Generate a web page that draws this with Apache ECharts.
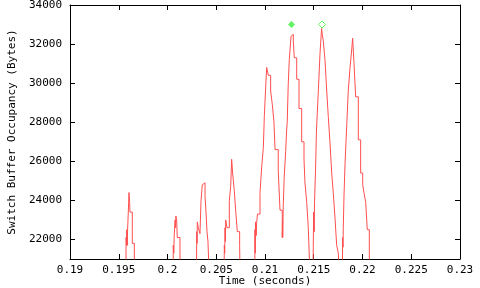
<!DOCTYPE html>
<html><head><meta charset="utf-8">
<script src="https://cdn.jsdelivr.net/npm/echarts@6/dist/echarts.min.js"></script>
<style>html,body{margin:0;padding:0;background:#fff}#c{width:480px;height:288px}</style>
</head><body><div id="c"></div>
<script>
const xTicks = [0.19, 0.195, 0.2, 0.205, 0.21, 0.215, 0.22, 0.225, 0.23];
const yTicks = [22000, 24000, 26000, 28000, 30000, 32000, 34000];
const xTitle = 'Time (seconds)';
const yTitle = 'Switch Buffer Occupancy (Bytes)';

const burst1 = [[0.19574,20000],[0.19575,22100],[0.19580,21700],[0.19582,22500],[0.19588,21700],[0.19590,22400],[0.19598,23400],[0.19605,24400],[0.19612,23900],[0.19615,23400],[0.19639,21800],[0.19660,20000]];
const burst2 = [[0.20058,20000],[0.20059,21700],[0.20065,21300],[0.20068,22100],[0.20078,23000],[0.20082,22600],[0.20086,23200],[0.20094,23000],[0.20100,22100],[0.20128,20000]];
const burst3 = [[0.20297,20000],[0.20300,22400],[0.20303,21800],[0.20306,22900],[0.20316,22600],[0.20333,22300],[0.20344,24000],[0.20357,24800],[0.20374,24900],[0.20385,24200],[0.20395,23400],[0.20405,22400],[0.20415,21900],[0.20429,20000]];
const burst4 = [[0.20580,20000],[0.20583,21700],[0.20587,21300],[0.20590,22600],[0.20594,21900],[0.20597,23000],[0.20610,22600],[0.20634,24000],[0.20648,24700],[0.20658,26100],[0.20668,25400],[0.20685,24500],[0.20699,23500],[0.20716,22400],[0.20740,21700],[0.20744,20000]];
const burst5 = [[0.20895,20000],[0.20897,22500],[0.20900,21300],[0.20903,22900],[0.20910,22200],[0.20915,22900],[0.20923,23300],[0.20949,24400],[0.20966,25700],[0.20983,26700],[0.20993,28300],[0.21007,29800],[0.21017,30800],[0.21028,30900],[0.21034,30400],[0.21058,29600],[0.21075,28900],[0.21092,28000],[0.21103,26600],[0.21136,25500],[0.21154,23500],[0.21177,22100]];
const burst6 = [[0.21180,23000],[0.21182,22100],[0.21187,23700],[0.21197,25200],[0.21205,25900],[0.21212,26500],[0.21222,27600],[0.21228,28000],[0.21238,29900],[0.21249,31200],[0.21267,32400],[0.21274,32500],[0.21278,32300],[0.21280,32500],[0.21290,32200],[0.21300,31300],[0.21325,30200],[0.21349,28700],[0.21376,27000],[0.21400,26100],[0.21410,24900],[0.21428,23900],[0.21444,22600],[0.21462,20000]];
const burst7 = [[0.21492,20000],[0.21495,21600],[0.21499,23400],[0.21505,22400],[0.21508,23900],[0.21518,25500],[0.21528,27600],[0.21546,29500],[0.21564,31500],[0.21574,32300],[0.21581,32800],[0.21587,32500],[0.21597,32200],[0.21615,31200],[0.21632,29700],[0.21649,28300],[0.21667,26900],[0.21684,25400],[0.21700,24400],[0.21718,23100],[0.21735,21700],[0.21752,21300],[0.21762,20000]];
const burst8 = [[0.21794,20000],[0.21796,22100],[0.21800,21600],[0.21803,22600],[0.21810,24200],[0.21821,25900],[0.21838,27800],[0.21854,29600],[0.21872,30800],[0.21889,31700],[0.21899,32300],[0.21913,31000],[0.21930,29300],[0.21957,27100],[0.21981,25400],[0.22002,24800],[0.22015,24400],[0.22033,23900],[0.22049,22500],[0.22070,20000]];
const markFilled = [[0.21272, 33000]];
const markOpen = [[0.21585, 33000]];

const occupancy = [].concat(burst1, burst2, burst3, burst4, burst5, burst6, burst7, burst8);
// gnuplot "steps": hold each value until the next sample time
function toSteps(pts){
  const out = [];
  for (let i = 0; i < pts.length; i++) {
    if (i > 0) out.push([pts[i][0], pts[i-1][1]]);
    out.push(pts[i]);
  }
  return out;
}

const FONT = 'DejaVu Sans Mono';
const txt = {color:'#000', fontFamily:FONT, fontSize:11};
const line = {show:true, onZero:false, lineStyle:{color:'#000', width:1}};
function xAx(pos, labels){
  return {type:'value', position:pos, min:0.19, max:0.23,
    axisLine:line,
    axisTick:{show:true, inside:true, length:5, customValues:xTicks, lineStyle:{color:'#000'}},
    axisLabel:{show:labels, customValues:xTicks, margin:6, ...txt,
      formatter:v=>String(parseFloat(v.toFixed(3)))},
    splitLine:{show:false},
    name: labels ? xTitle : '', nameLocation:'middle', nameGap:17, nameMoveOverlap:false,
    nameTextStyle:txt};
}
function yAx(pos, labels){
  return {type:'value', position:pos, min:21000, max:34000,
    axisLine:line,
    axisTick:{show:true, inside:true, length:5, customValues:yTicks, lineStyle:{color:'#000'}},
    axisLabel:{show:labels, customValues:yTicks, margin:8, ...txt, formatter:v=>String(v)},
    splitLine:{show:false},
    name: labels ? yTitle : '', nameLocation:'middle', nameRotate:90, nameGap:52, nameMoveOverlap:false,
    nameTextStyle:txt};
}
const chart = echarts.init(document.getElementById('c'), null, {renderer:'canvas'});
chart.setOption({
  animation:false,
  backgroundColor:'#fff',
  grid:{left:70, right:20, top:5, bottom:29, containLabel:false, outerBoundsMode:'none'},
  xAxis:[xAx('bottom', true), xAx('top', false)],
  yAxis:[yAx('left', true), yAx('right', false)],
  series:[
    {type:'line', xAxisIndex:0, yAxisIndex:0, data:toSteps(occupancy), symbol:'none', showSymbol:false,
     clip:true, lineStyle:{color:'#ff4f4f', width:1}},
    {type:'scatter', xAxisIndex:0, yAxisIndex:0, data:markFilled, symbol:'diamond', symbolSize:7,
     itemStyle:{color:'#3cf03c'}},
    {type:'scatter', xAxisIndex:0, yAxisIndex:0, data:markOpen, symbol:'diamond', symbolSize:7,
     itemStyle:{color:'#fff', borderColor:'#3cf03c', borderWidth:1}}
  ]
});
</script></body></html>
